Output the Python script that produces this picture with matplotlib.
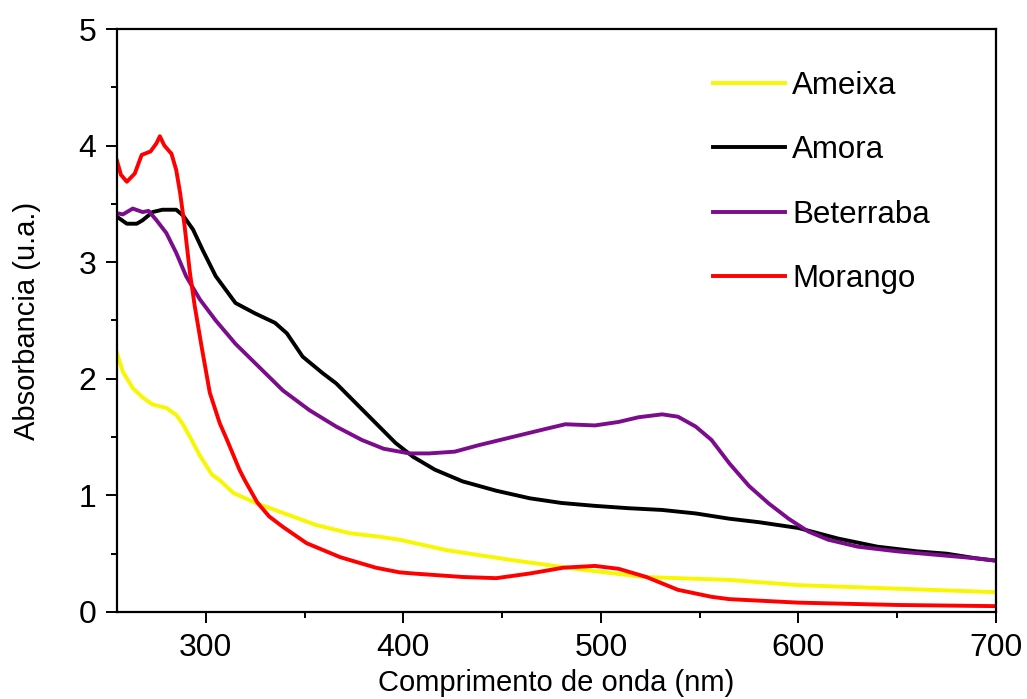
import numpy as np
import matplotlib.pyplot as plt
from matplotlib.ticker import MultipleLocator

# Espectros UV-Vis dos extratos
wl_ameixa = [255, 258, 263, 268, 273, 280, 285, 288, 292, 297, 303, 307, 314, 326, 339,
             356, 373, 388, 398, 422, 455, 489, 522, 565, 600, 650, 700]
ameixa = [2.22, 2.06, 1.92, 1.84, 1.78, 1.75, 1.69, 1.62, 1.50, 1.34, 1.18, 1.13, 1.02, 0.93, 0.85,
          0.745, 0.675, 0.645, 0.62, 0.53, 0.445, 0.366, 0.30, 0.275, 0.23, 0.20, 0.17]

wl_amora = [255, 260, 265, 268, 273, 278, 285, 288.5, 293.5, 298.5, 305, 315, 325, 335, 341,
            349, 359, 366, 376, 386, 396, 405, 416, 430, 447, 464, 480, 497, 514, 531, 548,
            565, 580, 600, 620, 640, 660, 675, 690, 700]
amora = [3.39, 3.33, 3.33, 3.36, 3.43, 3.45, 3.45, 3.40, 3.28, 3.10, 2.88, 2.65, 2.56, 2.48, 2.39,
         2.19, 2.05, 1.96, 1.79, 1.62, 1.45, 1.33, 1.22, 1.12, 1.04, 0.975, 0.935, 0.91, 0.89, 0.875, 0.845,
         0.80, 0.77, 0.72, 0.63, 0.56, 0.52, 0.50, 0.46, 0.44]

wl_beterraba = [255, 258, 263, 268, 271, 275, 280, 285, 290, 297, 305, 315, 327, 339, 352.5,
                366, 379, 390, 403, 413, 426, 438, 455, 472, 482, 497, 509, 519, 531, 539,
                548, 556, 565, 575, 585, 595, 605, 615, 630, 650, 670, 690, 700]
beterraba = [3.42, 3.41, 3.46, 3.43, 3.44, 3.36, 3.25, 3.08, 2.88, 2.68, 2.50, 2.30, 2.10, 1.90, 1.73,
             1.59, 1.475, 1.40, 1.36, 1.36, 1.375, 1.43, 1.50, 1.57, 1.61, 1.60, 1.63, 1.67, 1.695, 1.675,
             1.59, 1.475, 1.275, 1.08, 0.93, 0.80, 0.69, 0.62, 0.56, 0.52, 0.49, 0.46, 0.44]

wl_morango = [255, 257, 260, 264, 267.5, 272, 275, 276.7, 279, 282.6, 285, 287, 289.3, 292, 294.4,
              297.8, 302, 307, 310.6, 313.8, 317, 319.7, 326, 332, 339, 351, 368, 386, 398, 405,
              430, 447, 464, 481, 497, 509, 523, 539, 556, 565, 600, 650, 700]
morango = [3.87, 3.75, 3.69, 3.76, 3.92, 3.95, 4.02, 4.08, 4.00, 3.93, 3.79, 3.59, 3.30, 2.90, 2.62,
           2.28, 1.88, 1.62, 1.48, 1.35, 1.22, 1.13, 0.94, 0.82, 0.73, 0.59, 0.47, 0.38, 0.34, 0.33,
           0.30, 0.29, 0.33, 0.38, 0.395, 0.37, 0.30, 0.19, 0.13, 0.11, 0.08, 0.06, 0.05]

plt.rcParams['font.family'] = ['Liberation Sans', 'DejaVu Sans']

fig = plt.figure(figsize=(10.27, 6.99), dpi=100)
ax = fig.add_axes([0.1139, 0.1245, 0.8559, 0.834])

lw = 2.8
ax.plot(wl_ameixa, ameixa, color='#f7f700', lw=lw, label='Ameixa')
ax.plot(wl_amora, amora, color='black', lw=lw, label='Amora')
ax.plot(wl_beterraba, beterraba, color='#7b0c8c', lw=lw, label='Beterraba')
ax.plot(wl_morango, morango, color='#ff0000', lw=lw, label='Morango')

ax.set_xlim(255, 700)
ax.set_ylim(0, 5)
ax.xaxis.set_major_locator(MultipleLocator(100))
ax.xaxis.set_minor_locator(MultipleLocator(50))
ax.yaxis.set_major_locator(MultipleLocator(1))
ax.yaxis.set_minor_locator(MultipleLocator(0.5))

for s in ax.spines.values():
    s.set_linewidth(1.6)
ax.tick_params(which='both', direction='out', width=1.4, top=False, right=False)
ax.tick_params(which='major', length=8, labelsize=23, pad=7)
ax.tick_params(which='minor', length=4)

ax.set_xlabel('Comprimento de onda (nm)', fontsize=21)
ax.set_ylabel('Absorbancia (u.a.)', fontsize=21)
ax.xaxis.set_label_coords(0.5, -0.098)
ax.yaxis.set_label_coords(-0.086, 0.5)

ax.legend(loc='upper left', bbox_to_anchor=(0.660, 0.955), frameon=False, fontsize=22.5,
          handlelength=2.3, handletextpad=0.25, labelspacing=1.1, borderpad=0)

fig.savefig('out.png', dpi=100)
